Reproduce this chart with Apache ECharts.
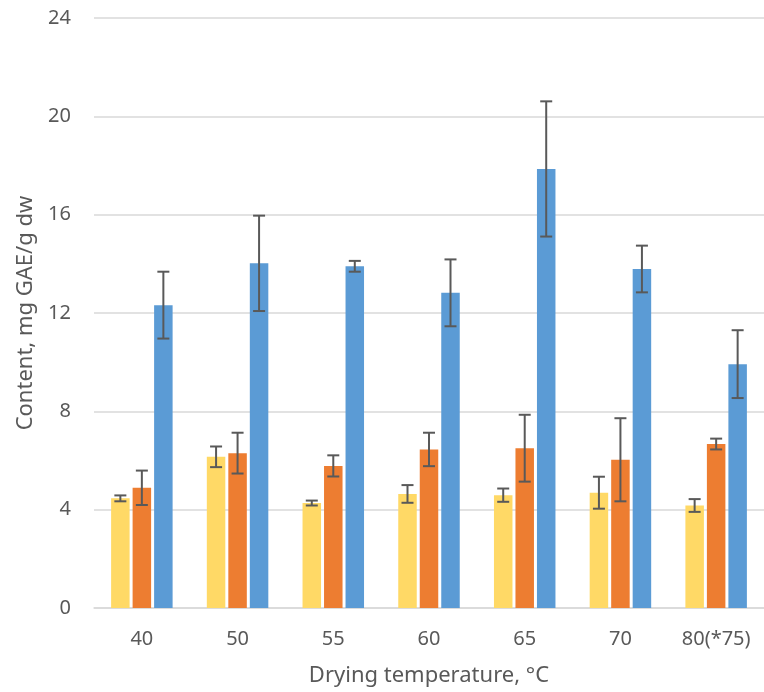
<!DOCTYPE html>
<html>
<head>
<meta charset="utf-8">
<script src="https://cdn.jsdelivr.net/npm/echarts@6/dist/echarts.min.js"></script>
<style>html,body{margin:0;padding:0;background:#fff}#c{width:764px;height:692px}</style>
</head>
<body>
<div id="c"></div>
<script>
const categories = ['40', '50', '55', '60', '65', '70', '80(*75)'];
const yellowValues = [4.46, 6.15, 4.27, 4.64, 4.59, 4.69, 4.17];
const yellowErrors = [0.12, 0.42, 0.10, 0.36, 0.27, 0.65, 0.26];
const orangeValues = [4.89, 6.30, 5.78, 6.45, 6.50, 6.03, 6.67];
const orangeErrors = [0.70, 0.83, 0.43, 0.68, 1.36, 1.69, 0.22];
const blueValues = [12.32, 14.02, 13.90, 12.82, 17.86, 13.79, 9.92];
const blueErrors = [1.36, 1.94, 0.22, 1.36, 2.75, 0.95, 1.38];
const yTicks = [0, 4, 8, 12, 16, 20, 24];

const FONT = 'Noto Sans';
const TXT = '#595959';
const BAR_W = 18.5;
const BAR_STEP = 21.5;
const colors = ['#FFD966', '#ED7D31', '#5B9BD5'];
const seriesValues = [yellowValues, orangeValues, blueValues];
const seriesErrors = [yellowErrors, orangeErrors, blueErrors];

function errSeries(k) {
  const vals = seriesValues[k], errs = seriesErrors[k];
  const data = vals.map((v, i) => [i, v - errs[i], v + errs[i]]);
  return {
    type: 'custom',
    z: 10,
    data: data,
    renderItem: function (params, api) {
      const i = api.value(0);
      const lo = api.coord([i, api.value(1)]);
      const hi = api.coord([i, api.value(2)]);
      const x = lo[0] + (k - 1) * BAR_STEP;
      const cap = 6;
      const st = { stroke: '#595959', lineWidth: 2 };
      return {
        type: 'group',
        children: [
          { type: 'line', shape: { x1: x, y1: lo[1], x2: x, y2: hi[1] }, style: st },
          { type: 'line', shape: { x1: x - cap, y1: lo[1], x2: x + cap, y2: lo[1] }, style: st },
          { type: 'line', shape: { x1: x - cap, y1: hi[1], x2: x + cap, y2: hi[1] }, style: st }
        ]
      };
    }
  };
}

const chart = echarts.init(document.getElementById('c'), null, { renderer: 'canvas' });
chart.setOption({
  animation: false,
  backgroundColor: '#fff',
  textStyle: { fontFamily: FONT },
  grid: { left: 94, top: 18, width: 675, height: 591, containLabel: false },
  xAxis: {
    type: 'category',
    data: categories,
    name: 'Drying temperature, °C',
    nameLocation: 'middle',
    nameGap: 57,
    nameTextStyle: { color: TXT, fontSize: 22, fontFamily: FONT },
    axisLine: { lineStyle: { color: '#D9D9D9', width: 1.5 } },
    axisTick: { show: false },
    axisLabel: { color: TXT, fontSize: 20, fontFamily: FONT, margin: 21 }
  },
  yAxis: {
    type: 'value',
    min: yTicks[0],
    max: yTicks[yTicks.length - 1],
    interval: 4,
    name: 'Content, mg GAE/g dw',
    nameLocation: 'middle',
    nameGap: 55,
    nameTextStyle: { color: TXT, fontSize: 22, fontFamily: FONT },
    axisLine: { show: false },
    axisTick: { show: false },
    axisLabel: { color: TXT, fontSize: 20, fontFamily: FONT, margin: 23 },
    splitLine: { lineStyle: { color: '#D9D9D9', width: 1.5 } }
  },
  series: [
    { type: 'bar', data: yellowValues, barWidth: BAR_W, barGap: ((BAR_STEP - BAR_W) / BAR_W * 100) + '%', itemStyle: { color: colors[0] } },
    { type: 'bar', data: orangeValues, barWidth: BAR_W, itemStyle: { color: colors[1] } },
    { type: 'bar', data: blueValues, barWidth: BAR_W, itemStyle: { color: colors[2] } },
    errSeries(0), errSeries(1), errSeries(2)
  ]
});
</script>
</body>
</html>
